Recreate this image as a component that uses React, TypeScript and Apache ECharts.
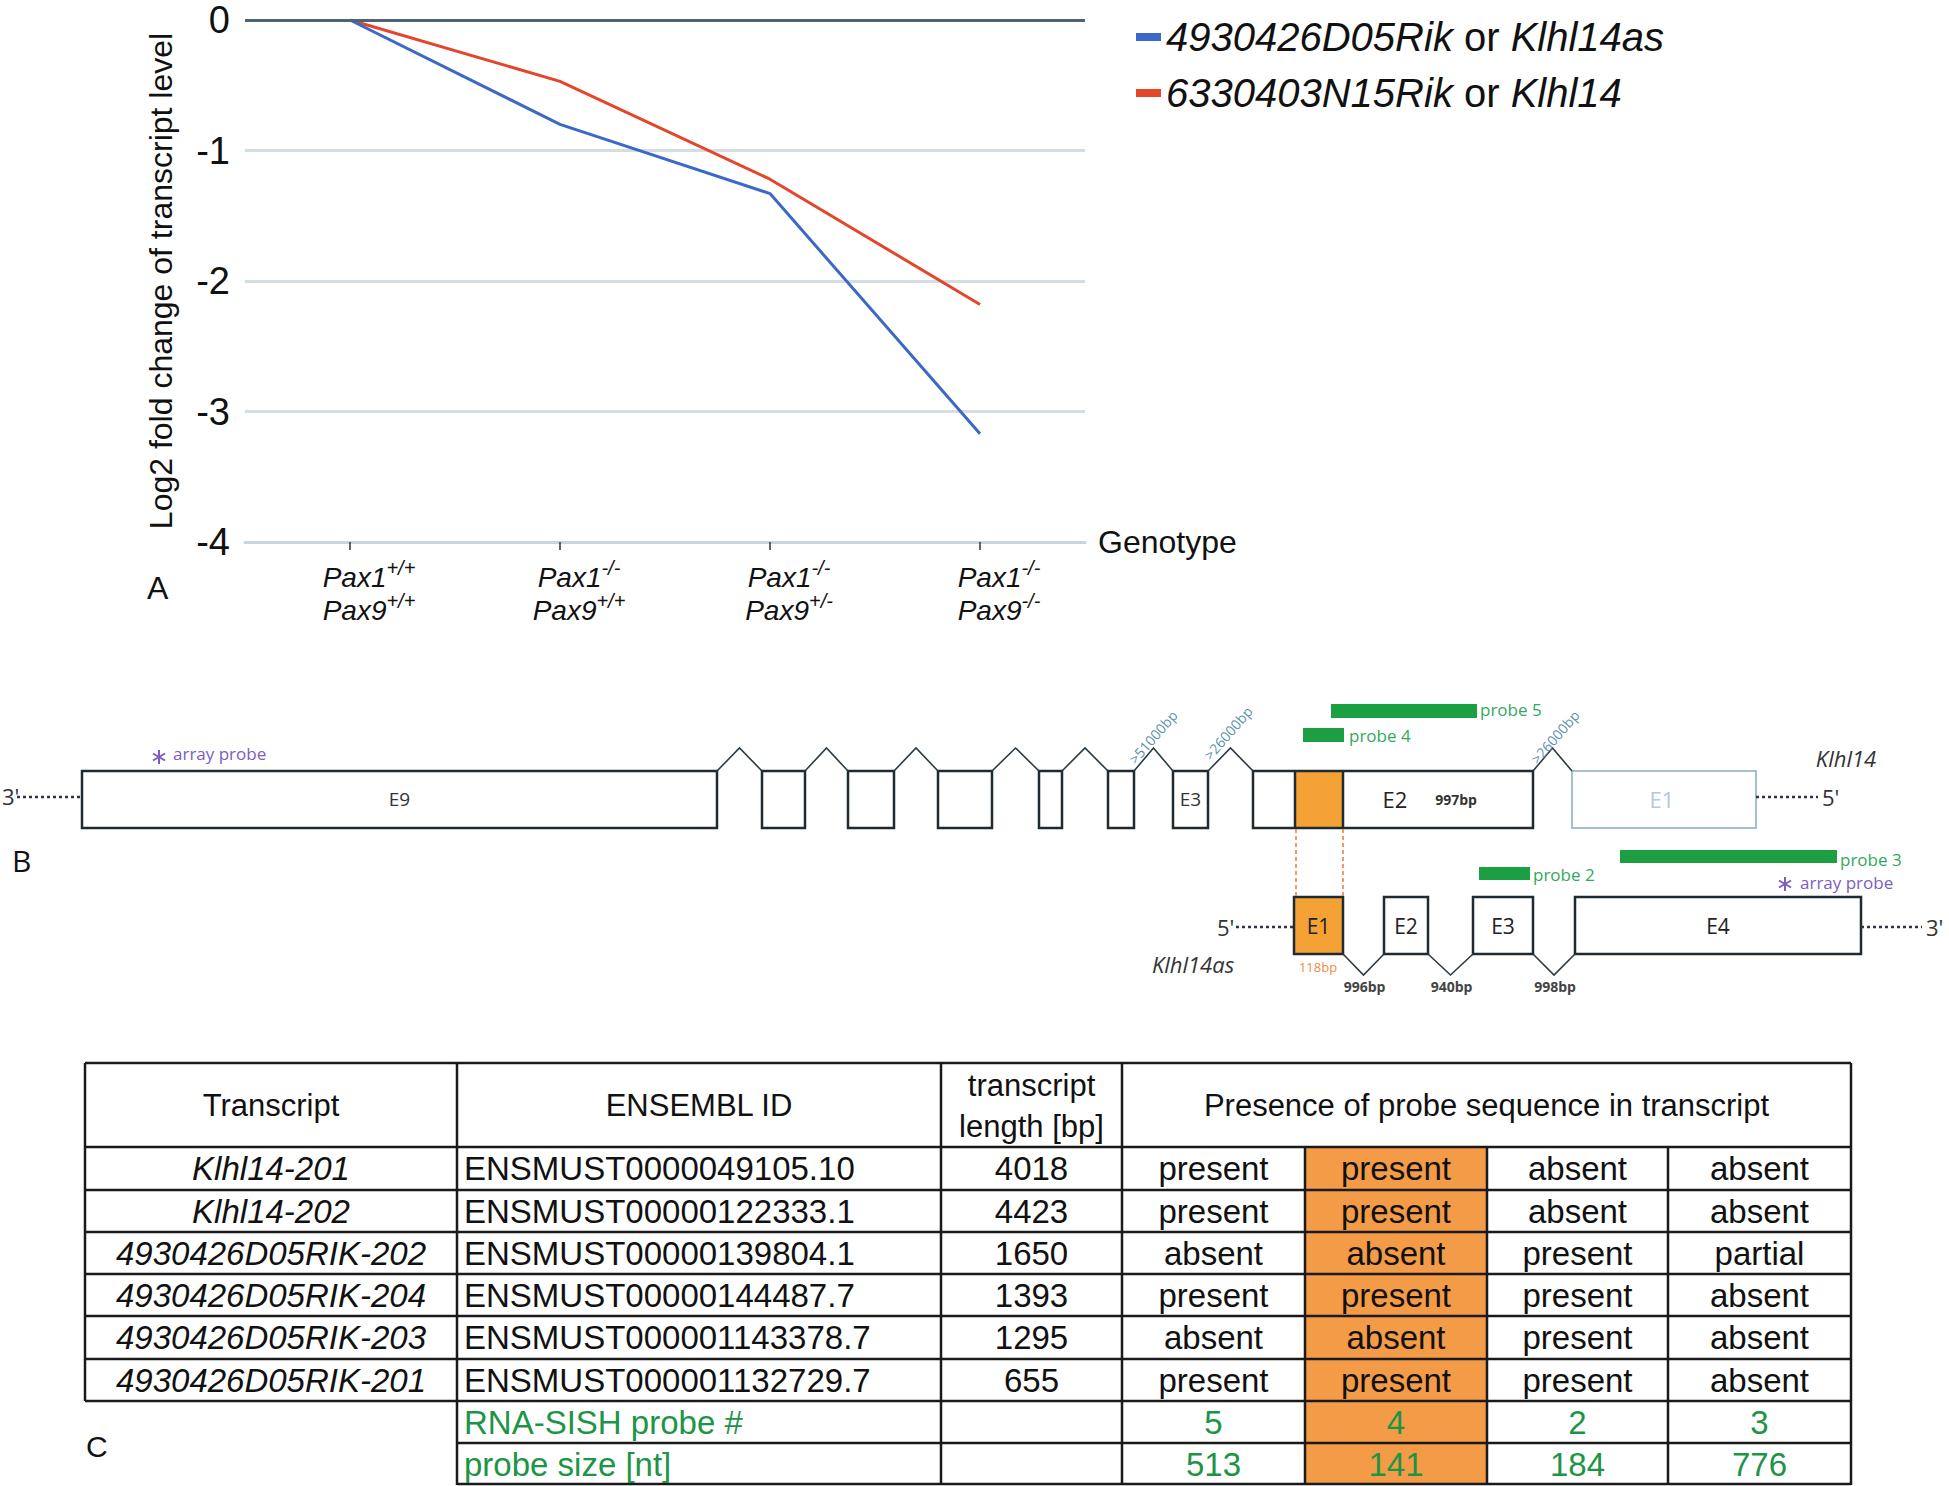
import React, { useEffect, useRef } from "react";
import * as echarts from "echarts";

// ---------------- Panel A data ----------------
const genotypeCategories = ["Pax1+/+ Pax9+/+", "Pax1-/- Pax9+/+", "Pax1-/- Pax9+/-", "Pax1-/- Pax9-/-"];
const pax1Alleles = ["+/+", "-/-", "-/-", "-/-"];
const pax9Alleles = ["+/+", "+/+", "+/-", "-/-"];
const klhl14asLog2 = [0, -0.8, -1.33, -3.17];
const klhl14Log2 = [0, -0.47, -1.22, -2.18];
const seriesNames = ["4930426D05Rik or Klhl14as", "6330403N15Rik or Klhl14"];
const yTickMin = -4;
const yTickMax = 0;
const yTickStep = 1;

// ---------------- Panel C data ----------------
const transcripts = ["Klhl14-201", "Klhl14-202", "4930426D05RIK-202", "4930426D05RIK-204", "4930426D05RIK-203", "4930426D05RIK-201"];
const ensemblIds = ["ENSMUST0000049105.10", "ENSMUST00000122333.1", "ENSMUST00000139804.1", "ENSMUST00000144487.7", "ENSMUST000001143378.7", "ENSMUST000001132729.7"];
const transcriptLengths = [4018, 4423, 1650, 1393, 1295, 655];
const probe5Presence = ["present", "present", "absent", "present", "absent", "present"];
const probe4Presence = ["present", "present", "absent", "present", "absent", "present"];
const probe2Presence = ["absent", "absent", "present", "present", "present", "present"];
const probe3Presence = ["absent", "absent", "partial", "absent", "absent", "absent"];
const probeNumbers = [5, 4, 2, 3];
const probeSizes = [513, 141, 184, 776];
const headerLabels = ["Transcript", "ENSEMBL ID"];

// ---------------- styles ----------------
const ARIAL = "'Liberation Sans', Arial, sans-serif";
const NARROW = "'Liberation Sans Narrow', 'Liberation Sans', Arial, sans-serif";
const MYRIAD = "'Open Sans', 'Noto Sans', sans-serif";
const DARK = "#1f2b31";
const GREEN_BAR = "#1c9e43";
const GREEN_TXT = "#33a860";
const PURPLE = "#7c5cc2";
const ORANGE = "#f4a235";
const TABLE_ORANGE = "#f49b47";
const TABLE_GREEN = "#1e9446";
const INTRON_LBL = "#5b8fb0";

type Any = any;

function txt(text: string, x: number, y: number, o: Any = {}): Any {
  const align = o.align || "left";
  const va = o.va || "middle";
  return {
    type: "text",
    x,
    y,
    rotation: o.rotation || 0,
    silent: true,
    z: 10,
    style: {
      text,
      fill: o.fill || "#111",
      fontSize: o.size || 20,
      fontFamily: o.family || ARIAL,
      fontStyle: o.italic ? "italic" : "normal",
      fontWeight: o.weight || "normal",
      align,
      verticalAlign: va,
      textAlign: align,
      textVerticalAlign: va,
    },
  };
}
function rect(x: number, y: number, w: number, h: number, o: Any = {}): Any {
  return {
    type: "rect",
    silent: true,
    z: o.z || 5,
    shape: { x, y, width: w, height: h },
    style: { fill: o.fill || "none", stroke: o.stroke || null, lineWidth: o.lw || 0 },
  };
}
function line(x1: number, y1: number, x2: number, y2: number, o: Any = {}): Any {
  return {
    type: "line",
    silent: true,
    z: o.z || 6,
    shape: { x1, y1, x2, y2 },
    style: { stroke: o.stroke || DARK, lineWidth: o.lw || 2, lineDash: o.dash || null },
  };
}
function poly(points: number[][], o: Any = {}): Any {
  return {
    type: "polyline",
    silent: true,
    z: 6,
    shape: { points },
    style: { stroke: o.stroke || DARK, lineWidth: o.lw || 1.6, fill: null },
  };
}
function star(cx: number, cy: number, r: number, color: string): Any[] {
  const out: Any[] = [];
  [90, 30, 150].forEach((deg) => {
    const a = (deg * Math.PI) / 180;
    out.push(line(cx - r * Math.cos(a), cy - r * Math.sin(a), cx + r * Math.cos(a), cy + r * Math.sin(a), { stroke: color, lw: 2 }));
  });
  return out;
}

// ---------------- Panel B layout ----------------
function buildGeneDiagram(): Any[] {
  const els: Any[] = [];
  const uTop = 771, uBot = 828, uMid = 799, peakY = 748;
  const upperBoxes = [
    [82, 717, "E9"], [762, 805, ""], [848, 894, ""], [938, 992, ""], [1039, 1062, ""], [1108, 1134, ""], [1173, 1208, "E3"],
  ] as [number, number, string][];
  upperBoxes.forEach(([a, b, l]) => {
    els.push(rect(a, uTop, b - a, uBot - uTop, { fill: "#fff", stroke: DARK, lw: 2.5 }));
    if (l) els.push(txt(l, (a + b) / 2, uMid, { align: "center", size: 19, family: MYRIAD, fill: "#333" }));
  });
  // E2 block with orange overlap
  els.push(rect(1295, uTop, 48, uBot - uTop, { fill: ORANGE, z: 4 }));
  els.push(rect(1253, uTop, 280, uBot - uTop, { stroke: DARK, lw: 2.5 }));
  els.push(line(1295, uTop, 1295, uBot, { lw: 2.5 }));
  els.push(line(1343, uTop, 1343, uBot, { lw: 2.5 }));
  els.push(txt("E2", 1395, uMid, { align: "center", size: 22, family: MYRIAD, fill: "#222" }));
  els.push(txt("997bp", 1456, uMid, { align: "center", size: 14, family: MYRIAD, weight: "bold", fill: "#333" }));
  // E1 grey
  els.push(rect(1572, uTop, 184, uBot - uTop, { stroke: "#a3bfd3", lw: 2 }));
  els.push(txt("E1", 1662, uMid, { align: "center", size: 22, family: MYRIAD, fill: "#b5c8d6" }));
  // intron peaks
  const upperIntrons = [[717, 762], [805, 848], [894, 938], [992, 1039], [1062, 1108], [1134, 1173], [1208, 1253], [1533, 1572]];
  upperIntrons.forEach(([a, b]) => els.push(poly([[a, uTop], [(a + b) / 2, peakY], [b, uTop]], { stroke: "#2b3b45" })));
  els.push(txt(">51000bp", 1153, 737, { align: "center", size: 14, family: MYRIAD, fill: INTRON_LBL, rotation: 0.85 }));
  els.push(txt(">26000bp", 1228, 733, { align: "center", size: 14, family: MYRIAD, fill: INTRON_LBL, rotation: 0.85 }));
  els.push(txt(">26000bp", 1555, 737, { align: "center", size: 14, family: MYRIAD, fill: INTRON_LBL, rotation: 0.85 }));
  // ends
  els.push(txt("3'", 2, 796, { size: 22, family: MYRIAD, fill: "#333" }));
  els.push(line(17, 797, 82, 797, { lw: 2.5, dash: [3, 3], stroke: "#334" }));
  els.push(line(1756, 797, 1818, 797, { lw: 2.5, dash: [3, 3], stroke: "#334" }));
  els.push(txt("5'", 1822, 797, { size: 22, family: MYRIAD, fill: "#333" }));
  els.push(txt("Klhl14", 1846, 758, { align: "center", size: 22, family: MYRIAD, italic: true, fill: "#333" }));
  // array probe (upper)
  els.push(...star(159, 757, 7, PURPLE));
  els.push(txt("array probe", 173, 753, { size: 17, family: MYRIAD, fill: PURPLE }));
  // probes upper
  els.push(rect(1331, 704, 146, 14, { fill: GREEN_BAR }));
  els.push(txt("probe 5", 1480, 709, { size: 17, family: MYRIAD, fill: GREEN_TXT }));
  els.push(rect(1303, 728, 41, 14, { fill: GREEN_BAR }));
  els.push(txt("probe 4", 1349, 735, { size: 17, family: MYRIAD, fill: GREEN_TXT }));
  // orange dashed overlap
  els.push(line(1296, 829, 1296, 897, { stroke: "#ee7a35", lw: 1.5, dash: [4, 3] }));
  els.push(line(1343, 829, 1343, 897, { stroke: "#ee7a35", lw: 1.5, dash: [4, 3] }));
  // lower gene
  const lTop = 897, lBot = 954, lMid = 926, valleyY = 975;
  els.push(rect(1294, lTop, 49, lBot - lTop, { fill: ORANGE, stroke: DARK, lw: 2.5 }));
  const lowerBoxes = [[1294, 1343, "E1"], [1384, 1428, "E2"], [1473, 1533, "E3"], [1575, 1861, "E4"]] as [number, number, string][];
  lowerBoxes.forEach(([a, b, l], i) => {
    if (i > 0) els.push(rect(a, lTop, b - a, lBot - lTop, { fill: "#fff", stroke: DARK, lw: 2.5 }));
    els.push(txt(l, (a + b) / 2, lMid, { align: "center", size: 21, family: MYRIAD, fill: "#222" }));
  });
  const lowerIntrons = [[1343, 1384, "996bp"], [1428, 1473, "940bp"], [1533, 1575, "998bp"]] as [number, number, string][];
  lowerIntrons.forEach(([a, b, l]) => {
    els.push(poly([[a, lBot], [(a + b) / 2, valleyY], [b, lBot]], { stroke: "#2b3b45" }));
    els.push(txt(l, (a + b) / 2 + 1, 986, { align: "center", size: 14, family: MYRIAD, weight: "bold", fill: "#444" }));
  });
  els.push(txt("118bp", 1318, 967, { align: "center", size: 13, family: MYRIAD, fill: "#f08a4a" }));
  els.push(txt("5'", 1217, 927, { size: 22, family: MYRIAD, fill: "#333" }));
  els.push(line(1236, 927, 1293, 927, { lw: 2.5, dash: [3, 3], stroke: "#334" }));
  els.push(line(1861, 927, 1922, 927, { lw: 2.5, dash: [3, 3], stroke: "#334" }));
  els.push(txt("3'", 1926, 927, { size: 22, family: MYRIAD, fill: "#333" }));
  els.push(txt("Klhl14as", 1193, 964, { align: "center", size: 22, family: MYRIAD, italic: true, fill: "#333" }));
  els.push(rect(1479, 867, 51, 13, { fill: GREEN_BAR }));
  els.push(txt("probe 2", 1533, 874, { size: 17, family: MYRIAD, fill: GREEN_TXT }));
  els.push(rect(1620, 850, 217, 13, { fill: GREEN_BAR }));
  els.push(txt("probe 3", 1840, 859, { size: 17, family: MYRIAD, fill: GREEN_TXT }));
  els.push(...star(1785, 884, 7, PURPLE));
  els.push(txt("array probe", 1800, 882, { size: 17, family: MYRIAD, fill: PURPLE }));
  els.push(txt("B", 12, 860, { size: 30, family: MYRIAD, fill: "#111" }));
  return els;
}

// ---------------- Panel C layout ----------------
function buildTable(): Any[] {
  const els: Any[] = [];
  const colX = [85, 457, 941, 1122, 1305, 1487, 1668, 1851];
  const rowY = [1063, 1147, 1190, 1232, 1274, 1316, 1359, 1401, 1443, 1485];
  const lw = 2.5;
  els.push(rect(colX[4], rowY[1], colX[5] - colX[4], rowY[9] - rowY[1], { fill: TABLE_ORANGE, z: 3 }));
  for (let r = 0; r <= 7; r++) els.push(line(colX[0], rowY[r], colX[7], rowY[r], { stroke: "#1a1a1a", lw }));
  els.push(line(colX[1], rowY[8], colX[7], rowY[8], { stroke: "#1a1a1a", lw }));
  els.push(line(colX[1], rowY[9] - 1, colX[7], rowY[9] - 1, { stroke: "#1a1a1a", lw }));
  els.push(line(colX[0], rowY[0], colX[0], rowY[7], { stroke: "#1a1a1a", lw }));
  [1, 2, 3, 7].forEach((c) => els.push(line(colX[c], rowY[0], colX[c], rowY[9], { stroke: "#1a1a1a", lw })));
  [4, 5, 6].forEach((c) => els.push(line(colX[c], rowY[1], colX[c], rowY[9], { stroke: "#1a1a1a", lw })));
  const cx = (c: number) => (colX[c] + colX[c + 1]) / 2;
  const cy = (r: number) => (rowY[r] + rowY[r + 1]) / 2;
  const H = 31, B = 33;
  els.push(txt(headerLabels[0], cx(0), cy(0), { align: "center", size: H }));
  els.push(txt(headerLabels[1], cx(1), cy(0), { align: "center", size: H }));
  els.push(txt("transcript", cx(2), 1085, { align: "center", size: H }));
  els.push(txt("length [bp]", cx(2), 1126, { align: "center", size: H }));
  els.push(txt("Presence of probe sequence in transcript", (colX[3] + colX[7]) / 2, cy(0), { align: "center", size: H }));
  const presence = [probe5Presence, probe4Presence, probe2Presence, probe3Presence];
  for (let i = 0; i < transcripts.length; i++) {
    const r = i + 1;
    els.push(txt(transcripts[i], cx(0), cy(r), { align: "center", size: B, italic: true }));
    els.push(txt(ensemblIds[i], colX[1] + 7, cy(r), { size: B }));
    els.push(txt(String(transcriptLengths[i]), cx(2), cy(r), { align: "center", size: B }));
    presence.forEach((p, j) => els.push(txt(p[i], cx(3 + j), cy(r), { align: "center", size: B })));
  }
  els.push(txt("RNA-SISH probe #", colX[1] + 7, cy(7), { size: B, fill: TABLE_GREEN }));
  els.push(txt("probe size [nt]", colX[1] + 7, cy(8), { size: B, fill: TABLE_GREEN }));
  probeNumbers.forEach((v, j) => els.push(txt(String(v), cx(3 + j), cy(7), { align: "center", size: B, fill: TABLE_GREEN })));
  probeSizes.forEach((v, j) => els.push(txt(String(v), cx(3 + j), cy(8), { align: "center", size: B, fill: TABLE_GREEN })));
  els.push(txt("C", 86, 1446, { size: 30 }));
  return els;
}

function buildOption(): Any {
  return {
    animation: false,
    backgroundColor: "#fff",
    grid: { left: 245, top: 20, width: 840, height: 522, containLabel: false },
    legend: {
      orient: "vertical",
      left: 1131,
      top: 12,
      itemWidth: 25,
      itemHeight: 8,
      itemGap: 16,
      itemTextGap: 12,
      icon: "rect",
      selectedMode: false,
      data: seriesNames,
      formatter: (name: string) => {
        const [a, b] = name.split(" or ");
        return `{i|${a}}{n| or }{i|${b}}`;
      },
      textStyle: {
        color: "#111",
        fontSize: 40,
        fontFamily: ARIAL,
        rich: {
          i: { fontStyle: "italic", fontSize: 40, fontFamily: ARIAL, color: "#111" },
          n: { fontSize: 40, fontFamily: ARIAL, color: "#111" },
        },
      },
    },
    xAxis: {
      type: "category",
      data: genotypeCategories,
      boundaryGap: true,
      name: "Genotype",
      nameLocation: "end",
      nameGap: 13,
      nameTextStyle: { fontSize: 32, fontFamily: ARIAL, color: "#111", align: "left", verticalAlign: "middle" },
      axisLine: { show: true, onZero: false, lineStyle: { color: "#c9d5dd", width: 3 } },
      axisTick: { show: true, alignWithLabel: true, length: 8, lineStyle: { color: "#333", width: 1.5 } },
      axisLabel: {
        margin: 16,
        interval: 0,
        formatter: (_v: string, i: number) => `{g| }{p|Pax1}{s|${pax1Alleles[i]}}\n{g| }{p|Pax9}{s|${pax9Alleles[i]}}`,
        rich: {
          g: { width: 38, fontSize: 28, lineHeight: 33 },
          p: { fontSize: 28, fontStyle: "italic", fontFamily: NARROW, color: "#111", lineHeight: 33, verticalAlign: "bottom" },
          s: { fontSize: 20, fontStyle: "italic", fontFamily: NARROW, color: "#111", lineHeight: 20, verticalAlign: "top" },
        },
      },
      splitLine: { show: false },
    },
    yAxis: {
      type: "value",
      min: yTickMin,
      max: yTickMax,
      interval: yTickStep,
      name: "Log2 fold change of transcript level",
      nameLocation: "middle",
      nameRotate: 90,
      nameGap: 68,
      nameTextStyle: { fontSize: 32, fontFamily: ARIAL, color: "#111" },
      axisLine: { show: false },
      axisTick: { show: false },
      axisLabel: { fontSize: 38, fontFamily: NARROW, color: "#111", margin: 15 },
      splitLine: { show: true, lineStyle: { color: "#d3dde4", width: 3 } },
    },
    series: [
      {
        name: seriesNames[0],
        type: "line",
        data: klhl14asLog2,
        symbol: "none",
        color: "#3c69c8",
        lineStyle: { color: "#3c69c8", width: 3 },
        z: 4,
        markLine: {
          silent: true,
          symbol: ["none", "none"],
          label: { show: false },
          lineStyle: { color: "#4e6472", width: 3, type: "solid" },
          data: [{ yAxis: 0 }],
        },
      },
      {
        name: seriesNames[1],
        type: "line",
        data: klhl14Log2,
        symbol: "none",
        color: "#e4462b",
        lineStyle: { color: "#e4462b", width: 3 },
        z: 3,
      },
    ],
    graphic: {
      elements: [txt("A", 147, 588, { size: 32 }), ...buildGeneDiagram(), ...buildTable()],
    },
  };
}

export default function App() {
  const ref = useRef<HTMLDivElement>(null);
  useEffect(() => {
    if (!ref.current) return;
    const chart = echarts.init(ref.current, null, { renderer: "svg" });
    chart.setOption(buildOption());
    return () => chart.dispose();
  }, []);
  return (
    <div
      ref={ref}
      style={{ position: "fixed", left: 0, top: 0, width: 1949, height: 1486, background: "#fff" }}
    />
  );
}
